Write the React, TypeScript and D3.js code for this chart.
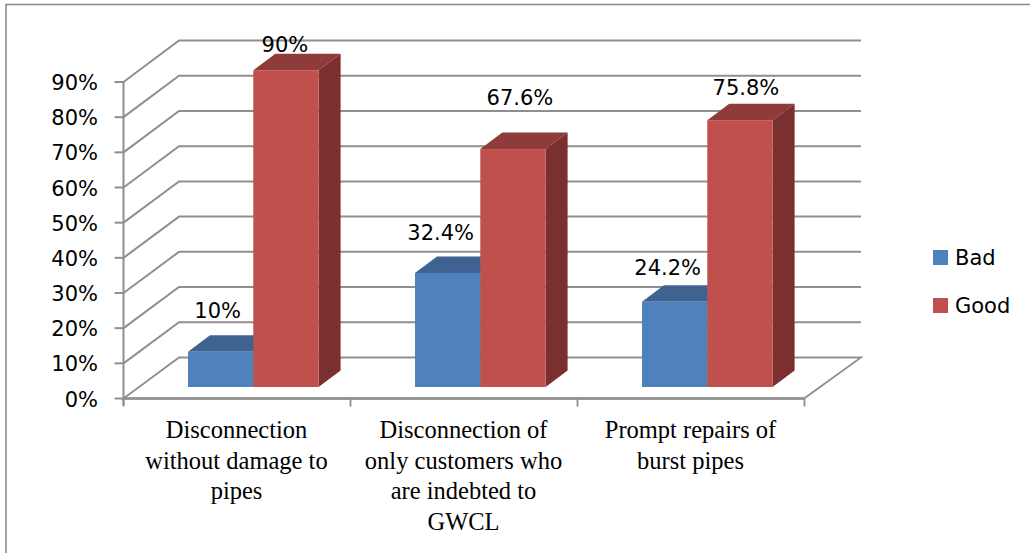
import React from "react";
import * as d3 from "d3";

const categoryLines = [
  ["Disconnection", "without damage to", "pipes"],
  ["Disconnection of", "only customers who", "are indebted to", "GWCL"],
  ["Prompt repairs of", "burst pipes"],
];
const badValues = [10, 32.4, 24.2];
const goodValues = [90, 67.6, 75.8];
const badLabels = ["10%", "32.4%", "24.2%"];
const goodLabels = ["90%", "67.6%", "75.8%"];
const tickValues = [0, 10, 20, 30, 40, 50, 60, 70, 80, 90];
const seriesNames = ["Bad", "Good"];

const W = 1030;
const H = 553;
const SANS = "'DejaVu Sans', sans-serif";
const SERIF = "'Liberation Serif', serif";
const GRID = "#8f8f8f";

// Oblique projection: the same value sits at three heights (axis, bar front, back wall).
const axisY = d3.scaleLinear().domain([0, 90]).range([398.5, 82]);
const barY = d3.scaleLinear().domain([0, 90]).range([387, 70.2]);
const wallY = d3.scaleLinear().domain([0, 90]).range([357.5, 40.5]);
const groupX = d3.scaleBand<number>().domain([0, 1, 2]).range([123, 804]);
const wallDx = 55.5;
const wallRight = 861;
const barDx = 22;
const barDy = 16.5;
const barInset = 65;
const barWidth = 65.3;

const tints = {
  Bad: { front: "#4f81bd", top: "#3e6390", side: "#3a5f8c" },
  Good: { front: "#c0504d", top: "#8f3b39", side: "#7b302f" },
};

// Hand-placed data labels, given as [dx, baseline dy] from the top of the bar's front face.
const badNudge = [[-3, -34], [-7, -33], [-7, -27]];
const goodNudge = [[-1, -18], [7, -44], [6, -25]];

function Bar({ x, value, tint }: { x: number; value: number; tint: typeof tints.Bad }) {
  const top = barY(value);
  const base = barY(0);
  const r = x + barWidth;
  const topPts = [[x, top], [x + barDx, top - barDy], [r + barDx, top - barDy], [r, top]];
  const sidePts = [[r, top], [r + barDx, top - barDy], [r + barDx, base - barDy], [r, base]];
  return (
    <g>
      <polygon points={topPts.join(" ")} fill={tint.top} />
      <polygon points={sidePts.join(" ")} fill={tint.side} />
      <rect x={x} y={top} width={barWidth} height={base - top} fill={tint.front} />
    </g>
  );
}

export default function App() {
  const floor = [
    [groupX.range()[0] + 0.5, axisY(0)],
    [groupX.range()[0] + 0.5 + wallDx, wallY(0)],
    [wallRight, wallY(0)],
    [groupX.range()[1], axisY(0)],
  ];
  const axisX = groupX.range()[0] + 0.5;
  const groupTicks = [0, 1, 2].map((i) => groupX(i) as number).concat(groupX.range()[1]);

  return (
    <svg
      width={W}
      height={H}
      viewBox={`0 0 ${W} ${H}`}
      style={{ position: "absolute", left: 0, top: 0, background: "#fff" }}
    >
      {/* outer frame */}
      <path d={`M6 ${H} V4.5 H${W}`} fill="none" stroke="#8a8a8a" strokeWidth={1.6} />

      {/* gridlines wrapping from the value axis onto the back wall */}
      {tickValues.slice(1).map((v) => (
        <path
          key={v}
          d={`M${axisX} ${axisY(v)} L${axisX + wallDx} ${wallY(v)} H${wallRight}`}
          fill="none"
          stroke={GRID}
          strokeWidth={2}
        />
      ))}
      <polygon points={floor.join(" ")} fill="#fff" stroke={GRID} strokeWidth={1.8} />

      {/* value axis */}
      <line x1={axisX} x2={axisX} y1={axisY(90)} y2={axisY(0) + 7} stroke={GRID} strokeWidth={2} />
      {tickValues.map((v) => (
        <g key={v}>
          <line x1={axisX - 9} x2={axisX} y1={axisY(v)} y2={axisY(v)} stroke={GRID} strokeWidth={2} />
          <text x={98} y={axisY(v) + 8} textAnchor="end" style={{ fontFamily: SANS, fontSize: 21 }} fill="#000">
            {`${v}%`}
          </text>
        </g>
      ))}

      {/* category axis */}
      <line x1={axisX} x2={groupX.range()[1]} y1={axisY(0)} y2={axisY(0)} stroke={GRID} strokeWidth={2.4} />
      {groupTicks.map((x) => (
        <line key={x} x1={x + 0.5} x2={x + 0.5} y1={axisY(0)} y2={axisY(0) + 8} stroke={GRID} strokeWidth={1.8} />
      ))}

      {/* bars */}
      {[0, 1, 2].map((i) => {
        const x0 = (groupX(i) as number) + barInset;
        return (
          <g key={i}>
            <Bar x={x0} value={badValues[i]} tint={tints.Bad} />
            <Bar x={x0 + barWidth} value={goodValues[i]} tint={tints.Good} />
          </g>
        );
      })}

      {/* data labels */}
      {[0, 1, 2].map((i) => {
        const x0 = (groupX(i) as number) + barInset;
        return (
          <g key={i} style={{ fontFamily: SANS, fontSize: 21 }} fill="#000" textAnchor="middle">
            <text x={x0 + barWidth / 2 + badNudge[i][0]} y={barY(badValues[i]) + badNudge[i][1]}>
              {badLabels[i]}
            </text>
            <text x={x0 + barWidth * 1.5 + goodNudge[i][0]} y={barY(goodValues[i]) + goodNudge[i][1]}>
              {goodLabels[i]}
            </text>
          </g>
        );
      })}

      {/* category labels */}
      {categoryLines.map((lines, i) => (
        <text
          key={i}
          x={(groupX(i) as number) + groupX.bandwidth() / 2 - (i === 0 ? 0 : 0)}
          y={438}
          textAnchor="middle"
          style={{ fontFamily: SERIF, fontSize: 24.5 }}
          fill="#000"
        >
          {lines.map((line, j) => (
            <tspan key={j} x={(groupX(i) as number) + groupX.bandwidth() / 2} y={438 + j * 30.7}>
              {line}
            </tspan>
          ))}
        </text>
      ))}

      {/* legend */}
      {seriesNames.map((name, i) => (
        <g key={name}>
          <rect x={933} y={250 + i * 48} width={15} height={15} fill={tints[name as keyof typeof tints].front} />
          <text x={955} y={265 + i * 48} style={{ fontFamily: SANS, fontSize: 21 }} fill="#000">
            {name}
          </text>
        </g>
      ))}
    </svg>
  );
}
